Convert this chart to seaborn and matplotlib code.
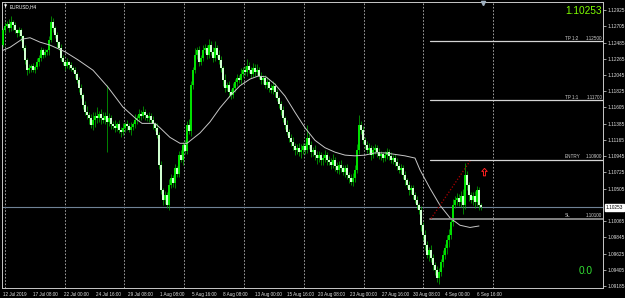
import numpy as np
import pandas as pd
import matplotlib
matplotlib.use("Agg")
import matplotlib.pyplot as plt
import matplotlib.transforms as mtrans
from matplotlib.path import Path
import seaborn as sns

# ---------------- data ----------------
symbol = "EURUSD,H4"
first_open = 1.1245
close = [
    1.1265, 1.1271, 1.1274, 1.1268, 1.1276, 1.1272, 1.1265, 1.1261, 1.1265, 1.1257,
    1.1241, 1.1225, 1.1211, 1.1214, 1.1217, 1.1211, 1.1215, 1.1222, 1.1228, 1.1238,
    1.1232, 1.1236, 1.1238, 1.1252, 1.1276, 1.1268, 1.1259, 1.1249, 1.1241, 1.1228,
    1.1222, 1.1217, 1.1222, 1.1218, 1.1214, 1.1211, 1.1206, 1.1198, 1.1187, 1.1177,
    1.1164, 1.1154, 1.1150, 1.1146, 1.1137, 1.1144, 1.1149, 1.1146, 1.1152, 1.1146,
    1.1144, 1.1149, 1.1141, 1.1146, 1.1138, 1.1135, 1.1133, 1.1138, 1.1130, 1.1127,
    1.1133, 1.1138, 1.1135, 1.1130, 1.1134, 1.1138, 1.1144, 1.1146, 1.1152, 1.1149,
    1.1154, 1.1150, 1.1146, 1.1149, 1.1144, 1.1138, 1.1133, 1.1123, 1.1083, 1.1049,
    1.1035, 1.1042, 1.1028, 1.1055, 1.1065, 1.1058, 1.1078, 1.1071, 1.1096, 1.1089,
    1.1110, 1.1102, 1.1137, 1.1128, 1.1191, 1.1211, 1.1232, 1.1238, 1.1222, 1.1228,
    1.1238, 1.1241, 1.1232, 1.1245, 1.1236, 1.1228, 1.1241, 1.1232, 1.1225, 1.1214,
    1.1198, 1.1187, 1.1191, 1.1181, 1.1177, 1.1187, 1.1195, 1.1200, 1.1198, 1.1206,
    1.1211, 1.1209, 1.1217, 1.1211, 1.1206, 1.1214, 1.1209, 1.1211, 1.1203, 1.1198,
    1.1200, 1.1191, 1.1195, 1.1187, 1.1184, 1.1190, 1.1181, 1.1173, 1.1165, 1.1157,
    1.1146, 1.1137, 1.1127, 1.1119, 1.1114, 1.1108, 1.1103, 1.1106, 1.1100, 1.1103,
    1.1108, 1.1103, 1.1119, 1.1110, 1.1100, 1.1103, 1.1096, 1.1092, 1.1096, 1.1089,
    1.1092, 1.1096, 1.1089, 1.1087, 1.1083, 1.1089, 1.1081, 1.1076, 1.1083, 1.1078,
    1.1073, 1.1078, 1.1069, 1.1065, 1.1060, 1.1065, 1.1076, 1.1103, 1.1137, 1.1130,
    1.1116, 1.1110, 1.1103, 1.1106, 1.1096, 1.1103, 1.1106, 1.1100, 1.1095, 1.1097,
    1.1092, 1.1096, 1.1100, 1.1095, 1.1089, 1.1092, 1.1087, 1.1081, 1.1076, 1.1078,
    1.1069, 1.1062, 1.1055, 1.1049, 1.1051, 1.1042, 1.1035, 1.1028, 1.1022, 1.1001,
    1.0988, 1.0974, 1.0961, 1.0967, 1.0957, 1.0947, 1.0940, 1.0929, 1.0938, 1.0951,
    1.0961, 1.0970, 1.0981, 1.0988, 1.1005, 1.1028, 1.1035, 1.1038, 1.1032, 1.1040,
    1.1028, 1.1069, 1.1055, 1.1042, 1.1035, 1.1040, 1.1032, 1.1049, 1.1028, 1.10253,
]
wick_up_pips = [
    3, 5, 4, 6, 8, 3, 4, 2, 5, 3, 2, 4, 3, 5, 2, 4, 3, 6, 4, 5,
    3, 4, 2, 5, 8, 6, 3, 4, 2, 5, 4, 3, 6, 2, 4, 3, 5, 2, 4, 6,
    3, 5, 8, 4, 6, 10, 5, 12, 4, 6, 9, 5, 42, 7, 5, 4, 8, 3, 5, 4,
    6, 3, 5, 4, 7, 3, 8, 4, 6, 5, 9, 4, 3, 6, 4, 5, 3, 6, 4, 5,
    3, 6, 4, 8, 5, 4, 6, 3, 5, 7, 4, 6, 5, 8, 6, 4, 9, 5, 6, 4,
    7, 5, 4, 8, 5, 6, 9, 4, 6, 5, 3, 8, 4, 6, 5, 7, 4, 6, 5, 8,
    4, 6, 9, 5, 4, 7, 5, 8, 4, 6, 5, 4, 7, 3, 5, 6, 4, 5, 3, 4,
    5, 3, 6, 4, 5, 7, 4, 5, 6, 8, 5, 4, 18, 6, 5, 4, 7, 5, 6, 4,
    5, 7, 4, 6, 5, 8, 4, 6, 5, 7, 4, 5, 6, 4, 5, 7, 6, 8, 13, 5,
    6, 4, 5, 7, 4, 6, 5, 4, 6, 5, 3, 5, 6, 4, 5, 4, 6, 5, 4, 6,
    4, 5, 3, 6, 4, 5, 4, 6, 3, 5, 4, 6, 5, 4, 7, 5, 4, 6, 5, 4,
    6, 5, 7, 8, 6, 9, 5, 7, 6, 8, 10, 16, 6, 5, 4, 6, 8, 5, 4, 3,
]
wick_dn_pips = [
    3, 4, 3, 5, 4, 6, 3, 5, 4, 6, 3, 5, 6, 4, 5, 3, 4, 2, 5, 4,
    4, 3, 5, 6, 3, 5, 4, 6, 3, 5, 4, 6, 3, 5, 4, 2, 6, 4, 5, 3,
    6, 4, 5, 8, 4, 7, 10, 6, 5, 8, 4, 6, 41, 5, 7, 4, 6, 5, 4, 6,
    4, 6, 5, 3, 7, 4, 5, 6, 4, 5, 3, 6, 4, 5, 4, 6, 5, 4, 6, 5,
    7, 5, 3, 6, 4, 5, 6, 4, 5, 3, 6, 4, 5, 4, 6, 5, 4, 6, 5, 4,
    5, 4, 6, 5, 4, 6, 5, 4, 5, 6, 8, 5, 4, 6, 5, 4, 6, 5, 4, 5,
    4, 5, 6, 4, 5, 4, 6, 5, 4, 6, 5, 4, 6, 5, 4, 5, 6, 4, 5, 6,
    5, 6, 4, 5, 6, 5, 7, 6, 5, 8, 6, 5, 4, 6, 7, 5, 6, 8, 5, 6,
    6, 5, 7, 4, 6, 5, 7, 4, 6, 5, 4, 6, 5, 7, 4, 6, 5, 4, 6, 5,
    5, 6, 4, 5, 6, 4, 5, 6, 4, 5, 6, 4, 5, 6, 4, 5, 6, 5, 4, 6,
    5, 6, 4, 7, 5, 6, 4, 5, 6, 8, 7, 6, 5, 8, 6, 7, 6, 5, 8, 6,
    7, 6, 8, 10, 6, 5, 4, 7, 5, 6, 12, 5, 6, 8, 4, 6, 7, 5, 6, 4,
]

ma_bar = [0, 3.5, 9.5, 13.5, 18.5, 23.5, 31, 37.5, 45, 52.5, 60, 67, 69.5, 76, 78.5,
          83.5, 88.5, 92, 98.5, 103.5, 108.5, 113.5, 118.5, 123.5, 127.5, 131.5, 136,
          141, 146, 151, 156, 161, 166, 171, 176, 181, 186, 191, 196, 201, 206, 208.5,
          213.5, 218.5, 223.5, 228.5, 233.5, 238]
ma_price = [1.1238, 1.1242, 1.1253, 1.1255, 1.1249, 1.1245, 1.1236, 1.1225, 1.1211,
            1.1188, 1.1161, 1.1144, 1.1139, 1.1139, 1.1133, 1.1120, 1.1112, 1.1112,
            1.1126, 1.1141, 1.1160, 1.1176, 1.1190, 1.1199, 1.1203, 1.1202, 1.1192,
            1.1176, 1.1154, 1.1133, 1.1116, 1.1106, 1.1100, 1.1096, 1.1095, 1.1096,
            1.1099, 1.1099, 1.1097, 1.1095, 1.1092, 1.1076, 1.1051, 1.1028, 1.1011,
            1.1001, 1.0998, 1.1000]

x_tick_labels = ["12 Jul 2019", "17 Jul 08:00", "22 Jul 00:00", "24 Jul 16:00",
                 "29 Jul 08:00", "1 Aug 08:00", "5 Aug 16:00", "8 Aug 08:00",
                 "13 Aug 00:00", "15 Aug 16:00", "20 Aug 08:00", "23 Aug 00:00",
                 "27 Aug 16:00", "30 Aug 08:00", "4 Sep 00:00", "6 Sep 16:00"]
x_tick_bars = [0, 15, 30.5, 46.5, 62.5, 78.5, 94.5, 110, 126, 142, 157.5, 173.5,
               189.5, 205, 221, 237]
y_tick_values = [1.12925, 1.12705, 1.12485, 1.12265, 1.12045, 1.11825, 1.11605,
                 1.11385, 1.11165, 1.10945, 1.10725, 1.10505, 1.10065,
                 1.09845, 1.09625, 1.09405, 1.09185]

level_names = ["TP 1:2", "TP 1:1", "ENTRY", "SL"]
level_prices = [1.12500, 1.11700, 1.10900, 1.10100]
current_price = 1.10253
profit_text = "0.0"
trade_line_bars = [214, 233.5]
trade_line_prices = [1.1010, 1.1088]
arrow_bar = 240.5
arrow_price = 1.1073
week_grid_bars = [1, 31, 60.5, 90.5, 120.5, 150.5, 180.5, 210, 245]

# ---------------- derived OHLC ----------------
df = pd.DataFrame({"close": close})
df["open"] = [first_open] + close[:-1]
df["high"] = df[["open", "close"]].max(axis=1) + np.array(wick_up_pips) * 1e-4
df["low"] = df[["open", "close"]].min(axis=1) - np.array(wick_dn_pips) * 1e-4
df["bar"] = np.arange(len(df))

# ---------------- style ----------------
sns.set_style("dark")
plt.rcParams["font.family"] = ["Liberation Sans", "DejaVu Sans"]
plt.rcParams["axes.facecolor"] = "black"
plt.rcParams["figure.facecolor"] = "black"

W, H = 625, 298
fig = plt.figure(figsize=(W / 100, H / 100), dpi=100, facecolor="black")
ax = fig.add_axes([2 / W, 10 / H, 601 / W, 286 / H])
ax.set_facecolor("black")
ax.grid(False)

# week separators
for b in week_grid_bars:
    ax.axvline(b, color="#b8b8b8", lw=0.6, ls=(0, (2, 2)), zorder=1)

# current price line
ax.axhline(current_price, color="#6f8296", lw=0.8, zorder=1)

# candles
ax.vlines(df["bar"], df["low"], df["high"], color="#00b800", lw=0.5, zorder=2)
bull = df["close"] >= df["open"]
body_bottom = df[["open", "close"]].min(axis=1)
body_h = (df["close"] - df["open"]).abs().clip(lower=0.00006)
colors = np.where(bull, "#00e000", "#d0ffd0")
ax.bar(df["bar"], body_h, bottom=body_bottom, width=0.6, color=colors,
       edgecolor="none", linewidth=0, zorder=3)

# moving average
sns.lineplot(x=ma_bar, y=ma_price, ax=ax, color="#c8c8c8", lw=0.7, zorder=4)

# trade levels
for name, p in zip(level_names, level_prices):
    col = "#8c8c8c" if name == "SL" else "#d4d4d4"
    lw = 1.3 if name == "SL" else 0.9
    ax.plot([213.5, 300], [p, p], color=col, lw=lw, zorder=4)
    ax.text(281, p + 0.0001, name, color="#d0d0d0", fontsize=3.3,
            ha="left", va="bottom", zorder=5)
    ax.text(299.6, p + 0.0001, f"{p:.5f}", color="#d0d0d0", fontsize=3.3,
            ha="right", va="bottom", zorder=5)

# trade dotted line and arrow marker
ax.plot(trade_line_bars, trade_line_prices, color="#b00000", lw=0.9,
        ls=(0, (1, 1.5)), zorder=5)
arrow_path = Path([(0, 1), (-0.65, 0.25), (-0.25, 0.25), (-0.25, -0.8),
                   (0.25, -0.8), (0.25, 0.25), (0.65, 0.25), (0, 1)])
ax.plot([arrow_bar], [arrow_price], marker=arrow_path, ms=6, mfc="none",
        mec="#ff2020", mew=0.7, zorder=6)

# chart shift marker
ax.plot([240], [1.1302], marker="v", ms=3, color="#9fb0c0", clip_on=False, zorder=6)

ax.set_xlim(-0.5, 300)
ax.set_ylim(1.0916, 1.13034)

# axes / ticks
for s in ax.spines.values():
    s.set_color("#c8c8c8")
    s.set_linewidth(0.7)
ax.yaxis.tick_right()
ax.set_yticks(y_tick_values)
ax.set_yticklabels([f"{v:.5f}" for v in y_tick_values])
ax.set_xticks(x_tick_bars)
ax.set_xticklabels(x_tick_labels, ha="left")
ax.tick_params(axis="both", colors="#e0e0e0", length=2, width=0.5, pad=1.0)
ax.tick_params(axis="y", labelsize=3.4)
ax.tick_params(axis="x", labelsize=3.3)
ax.set_xlabel("")
ax.set_ylabel("")

# price box on axis
trans = mtrans.blended_transform_factory(ax.transAxes, ax.transData)
ax.text(1.005, current_price, f"{current_price:.5f}", transform=trans,
        fontsize=3.4, color="black", ha="left", va="center", zorder=10,
        bbox=dict(boxstyle="square,pad=0.15", fc="white", ec="white"))

# overlays
fig.text(4 / W, 1 - 6 / H, "\u25bc", color="white", fontsize=3, ha="left",
         va="center", family="DejaVu Sans")
fig.text(10 / W, 1 - 6.5 / H, symbol, color="white", fontsize=3.4, ha="left",
         va="center")
fig.text(602 / W, 1 - 10.5 / H, f"{current_price:.5f}", color="#7fff00",
         fontsize=7.3, ha="right", va="center")
fig.text(586 / W, (H - 271) / H, profit_text, color="#33e033", fontsize=7.3,
         ha="center", va="center")

fig.savefig("out.png", dpi=100, facecolor="black")
